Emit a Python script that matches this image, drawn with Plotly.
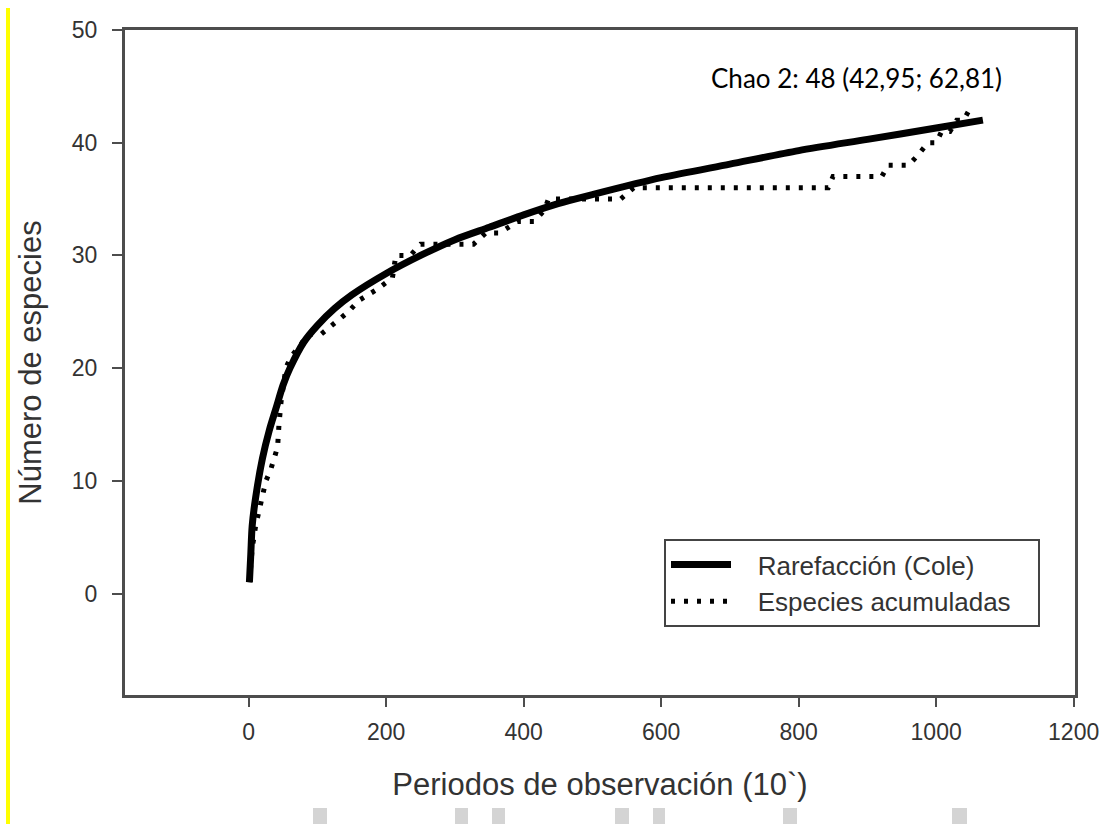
import plotly.graph_objects as go

# Rarefaction (Cole) curve
rare_x = [1, 3, 5, 10, 20, 30, 40, 50, 60, 80, 100, 125, 150, 200, 250, 300, 350,
          400, 450, 500, 600, 700, 800, 900, 1000, 1068]
rare_y = [1.0, 3.5, 6.0, 8.5, 12.0, 14.5, 16.5, 18.5, 20.0, 22.3, 23.8, 25.3, 26.5,
          28.4, 30.0, 31.4, 32.5, 33.6, 34.6, 35.4, 36.9, 38.1, 39.3, 40.3, 41.3, 42.0]

# Accumulated species (observed)
acc_x = [1, 5, 10, 17, 25, 32, 42, 44, 47, 54, 61, 75, 85, 105, 124, 145, 160, 187,
         209, 214, 235, 250, 313, 327, 345, 365, 391, 415, 430, 436, 488, 541, 560,
         843, 850, 921, 930, 960, 975, 988, 1000, 1008, 1020, 1030, 1040, 1049]
acc_y = [1, 4, 6, 8, 10, 11, 13, 15, 17, 20, 21, 22, 23, 23, 24, 25, 26, 27,
         28, 30, 30, 31, 31, 31, 32, 32, 33, 33, 34, 35, 35, 35, 36,
         36, 37, 37, 38, 38, 39, 40, 40, 41, 41, 42, 42, 43]

x_ticks = [0, 200, 400, 600, 800, 1000, 1200]
y_ticks = [0, 10, 20, 30, 40, 50]

W, H = 1105, 824
ML, MR, MT, MB = 125, 30, 30, 129
PW, PH = W - ML - MR, H - MT - MB

def px(xp):
    return (xp - ML) / PW

def py(yp):
    return (H - MB - yp) / PH

NB = "\u00a0"
fig = go.Figure()
fig.add_trace(go.Scatter(x=rare_x, y=rare_y, mode="lines", name=NB * 3 + "Rarefacción (Cole)",
                         line=dict(color="black", width=7, shape="spline", smoothing=0.8)))
fig.add_trace(go.Scatter(x=acc_x, y=acc_y, mode="lines", name=NB * 3 + "Especies acumuladas" + NB * 3,
                         line=dict(color="black", width=5, dash="4px,9px")))

font_main = "Liberation Sans, Arial, sans-serif"
axis_col = "#4d4d4d"
text_col = "#333333"

fig.update_xaxes(range=[-180, 1202], tickvals=x_ticks, showgrid=False, zeroline=False,
                 showline=True, linecolor=axis_col, linewidth=3, mirror=True,
                 ticks="outside", ticklen=9, tickwidth=2, tickcolor=axis_col,
                 ticklabelstandoff=5,
                 tickfont=dict(family=font_main, size=23, color=text_col),
                 title=dict(text="Periodos de observación (10`)", standoff=30,
                            font=dict(family=font_main, size=31, color=text_col)))
fig.update_yaxes(range=[-9.0, 50], tickvals=y_ticks, showgrid=False, zeroline=False,
                 showline=True, linecolor=axis_col, linewidth=3, mirror=True,
                 ticks="outside", ticklen=10, tickwidth=2, tickcolor=axis_col,
                 ticklabelstandoff=10,
                 tickfont=dict(family=font_main, size=23, color=text_col),
                 title=dict(text="Número de especies", standoff=21,
                            font=dict(family=font_main, size=31, color=text_col)))

fig.add_annotation(x=884, y=45.7, xref="x", yref="y", text="Chao 2: 48 (42,95; 62,81)",
                   showarrow=False, font=dict(family="Lato, Carlito, sans-serif", size=26, color="black"))

shapes = [dict(type="line", xref="paper", yref="paper", x0=px(8), x1=px(8), y0=py(824), y1=py(8),
               line=dict(color="#ffff00", width=4))]
for (a, b) in [(313, 327), (455, 468), (492, 505), (615, 629), (653, 665), (783, 797), (952, 967)]:
    shapes.append(dict(type="rect", xref="paper", yref="paper", x0=px(a), x1=px(b),
                       y0=py(824), y1=py(808), line=dict(width=0), fillcolor="#d4d4d4"))
fig.update_layout(shapes=shapes)

fig.update_layout(
    width=W, height=H, margin=dict(l=ML, r=MR, t=MT, b=MB, autoexpand=False),
    paper_bgcolor="white", plot_bgcolor="white",
    legend=dict(x=px(664), y=py(539), xanchor="left", yanchor="top",
                bordercolor="#444444", borderwidth=2, bgcolor="white",
                font=dict(family=font_main, size=26, color=text_col),
                itemwidth=60, tracegroupgap=0),
)

fig.write_html("out.html", config={"displayModeBar": False},
               post_script="document.body.style.margin='0';")
